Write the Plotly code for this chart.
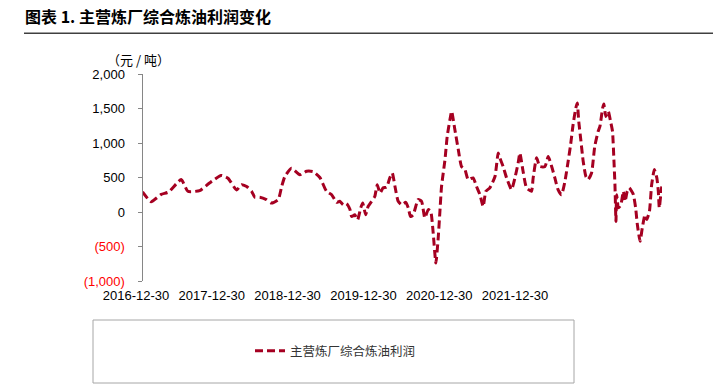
import plotly.graph_objects as go

# ---------------- data ----------------
dates = [
    "2016-12-30", "2017-02-03", "2017-03-16", "2017-04-15", "2017-06-05", "2017-07-02",
    "2017-08-19", "2017-09-28", "2017-11-14", "2017-12-12", "2018-01-16", "2018-02-05",
    "2018-02-26", "2018-03-18", "2018-03-31", "2018-04-20", "2018-05-17", "2018-06-06",
    "2018-07-04", "2018-07-18", "2018-07-31", "2018-08-27", "2018-09-30", "2018-10-27",
    "2018-11-23", "2018-12-20", "2019-01-16", "2019-02-06", "2019-02-26", "2019-03-11",
    "2019-03-25", "2019-04-07", "2019-04-21", "2019-04-28", "2019-05-11", "2019-05-22",
    "2019-06-04", "2019-06-12", "2019-06-24", "2019-07-04", "2019-07-18", "2019-07-31",
    "2019-08-10", "2019-08-21", "2019-09-03", "2019-09-17", "2019-09-30", "2019-10-10",
    "2019-10-21", "2019-11-03", "2019-11-17", "2019-12-04", "2019-12-14", "2019-12-23",
    "2020-01-03", "2020-01-23", "2020-02-06", "2020-02-19", "2020-03-04", "2020-03-14",
    "2020-03-24", "2020-04-04", "2020-04-13", "2020-04-20", "2020-04-27", "2020-05-11",
    "2020-05-20", "2020-05-31", "2020-06-07", "2020-06-20", "2020-07-04", "2020-07-17",
    "2020-07-31", "2020-08-13", "2020-09-02", "2020-09-16", "2020-09-30", "2020-10-13",
    "2020-10-24", "2020-11-09", "2020-11-30", "2020-12-13", "2020-12-20", "2021-01-02",
    "2021-01-16", "2021-02-05", "2021-02-19", "2021-03-04", "2021-03-11", "2021-03-24",
    "2021-04-07", "2021-04-27", "2021-05-04", "2021-05-18", "2021-05-31", "2021-06-21",
    "2021-07-04", "2021-07-18", "2021-07-31", "2021-08-13", "2021-08-27", "2021-09-10",
    "2021-09-23", "2021-10-03", "2021-10-13", "2021-10-24", "2021-10-30", "2021-11-05",
    "2021-11-14", "2021-11-23", "2021-12-04", "2021-12-13", "2021-12-27", "2022-01-09",
    "2022-01-23", "2022-01-30", "2022-02-10", "2022-02-15", "2022-02-23", "2022-03-05",
    "2022-03-14", "2022-03-22", "2022-03-28", "2022-04-01", "2022-04-05", "2022-04-08",
    "2022-04-15", "2022-04-25", "2022-05-05", "2022-05-12", "2022-05-21", "2022-05-29",
    "2022-06-08", "2022-06-15", "2022-06-24", "2022-07-01", "2022-07-12", "2022-07-21",
    "2022-08-01", "2022-08-08", "2022-08-19", "2022-08-28", "2022-09-08", "2022-09-18",
    "2022-09-24", "2022-09-28", "2022-10-04", "2022-10-08",
]
profit = [
    290, 150, 255, 290, 470, 300,
    310, 420, 530, 490, 320, 395,
    370, 300, 215, 215, 180, 130,
    180, 370, 515, 635, 540, 590,
    585, 500, 300, 250, 140, 155,
    105, 120, 40, -65, -40, -115,
    60, 130, -40, 80, 155, 225,
    395, 275, 350, 360, 495, 565,
    370, 155, 105, 140, 60, -65,
    -40, 180, 155, -85, 35, 10,
    -300, -740, -400, -15, 370, 760,
    1095, 1335, 1460, 1195, 905, 660,
    615, 470, 495, 370, 250, 80,
    300, 350, 515, 855, 780, 660,
    495, 325, 495, 710, 855, 590,
    350, 300, 495, 785, 660, 660,
    805, 660, 495, 325, 250, 445,
    735, 975, 1265, 1505, 1580, 1315,
    1025, 735, 515, 470, 565, 950,
    1170, 1240, 1505, 1565, 1385, 1460,
    1315, 1170, 735, 395, -135, 250,
    60, 105, 300, 155, 300, 350,
    300, 250, 60, -185, -425, -230,
    -40, -110, 10, 395, 615, 495,
    300, 60, 250, 370,
]
series_name = "主营炼厂综合炼油利润"
title_text = "图表 1. 主营炼厂综合炼油利润变化"
unit_text = "（元 / 吨）"

x_range = ["2016-12-30", "2022-10-09"]
year_ticks = ["2016-12-30", "2017-12-30", "2018-12-30", "2019-12-30", "2020-12-30", "2021-12-30"]
x_labels = ["2016-12-30", "2017-12-30", "2018-12-30", "2019-12-30", "2020-12-30", "2021-12-30"]
y_ticks = [-1000, -500, 0, 500, 1000, 1500, 2000]

def fmt(v):
    if v < 0:
        return '<span style="color:#FF0000">({:,})</span>'.format(-v)
    return "{:,}".format(v)

y_ticktext = [fmt(v) for v in y_ticks]

# ---------------- layout geometry ----------------
# the page body has an 8px margin, so the figure is drawn 8px smaller and
# every reference pixel coordinate is shifted by OFF
OFF = 8
W, H = 721 - OFF, 386 - OFF
L = 142.5 - 82.5 - OFF          # paper area starts left of the plot to host the first x label
T = 74 - OFF
R = 721 - 662
B = 386 - 281
PW = W - L - R
PH = H - T - B

def px_x(p):
    return (p - OFF - L) / PW

def px_y(p):
    return (H - B - (p - OFF)) / PH

d0 = px_x(142.5)
LINE_COLOR = "#A50021"
AX_COLOR = "#868686"

fig = go.Figure()
fig.add_trace(go.Scatter(
    x=dates, y=profit, mode="lines", name=series_name,
    line=dict(color=LINE_COLOR, width=3, dash="8px,4px", shape="spline", smoothing=0.5),
    xaxis="x", yaxis="y", showlegend=True,
))
# invisible helper trace so the label axis exists
fig.add_trace(go.Scatter(
    x=list(range(len(x_labels))), y=[None] * len(x_labels), mode="lines",
    xaxis="x3", yaxis="y", showlegend=False, hoverinfo="skip",
))

# label axis: labels evenly spaced, first label centred at ref px 136, step 75.8 px
step = 75.8
r0 = -(136 - OFF - L) / step
r1 = r0 + PW / step

fig.update_layout(
    width=W, height=H,
    margin=dict(l=L, r=R, t=T, b=B, pad=0, autoexpand=False),
    paper_bgcolor="white", plot_bgcolor="rgba(0,0,0,0)",
    font=dict(family="Liberation Sans, Arial, sans-serif", size=13, color="black"),
    title=dict(
        text="<b>" + title_text + "</b>", xref="container", yref="container",
        x=(25 - OFF) / W, y=1 - (17 - OFF) / H, xanchor="left", yanchor="middle",
        font=dict(family="Noto Sans CJK SC", size=16, color="black"),
    ),
    xaxis=dict(
        type="date", domain=[d0, 1], range=x_range,
        showticklabels=False, showgrid=False, zeroline=False, showline=False, ticks="",
    ),
    xaxis2=dict(
        type="date", domain=[d0, 1], range=x_range, overlaying="x",
        anchor="free", position=1 / 3,
        tickmode="array", tickvals=year_ticks, showticklabels=False,
        ticks="outside", ticklen=4, tickcolor=AX_COLOR, tickwidth=1,
        showline=True, linecolor=AX_COLOR, linewidth=1.3,
        showgrid=False, zeroline=False,
    ),
    xaxis3=dict(
        domain=[0, 1], range=[r0, r1], anchor="free", position=0,
        tickmode="array", tickvals=list(range(len(x_labels))), ticktext=x_labels,
        tickangle=0, ticks="", showline=False, showgrid=False, zeroline=False,
        ticklabelstandoff=5,
        tickfont=dict(size=13, color="black"),
    ),
    yaxis=dict(
        range=[-1000, 2000], anchor="x",
        tickmode="array", tickvals=y_ticks, ticktext=y_ticktext,
        ticks="outside", ticklen=4, tickcolor=AX_COLOR,
        showline=True, linecolor=AX_COLOR, linewidth=1,
        showgrid=False, zeroline=False,
        ticklabelstandoff=10,
        tickfont=dict(size=13, color="black"),
    ),
    legend=dict(
        x=px_x(250), y=px_y(351), xanchor="left", yanchor="middle",
        bgcolor="rgba(0,0,0,0)", borderwidth=0,
        font=dict(family="Noto Sans CJK SC", size=12.5, color="#333333"),
    ),
    shapes=[
        dict(type="line", xref="paper", yref="paper",
             x0=px_x(24), x1=px_x(730), y0=px_y(33.3), y1=px_y(33.3),
             line=dict(color="#404040", width=1.5)),
        dict(type="rect", xref="paper", yref="paper",
             x0=px_x(93), x1=px_x(574), y0=px_y(383), y1=px_y(320),
             line=dict(color="#A6A6A6", width=1)),
    ],
    annotations=[
        dict(text=unit_text, xref="paper", yref="paper",
             x=px_x(138), y=px_y(60), xanchor="center", yanchor="middle",
             showarrow=False, font=dict(family="Noto Sans CJK SC", size=13, color="black")),
    ],
)

fig.write_html("out.html")
